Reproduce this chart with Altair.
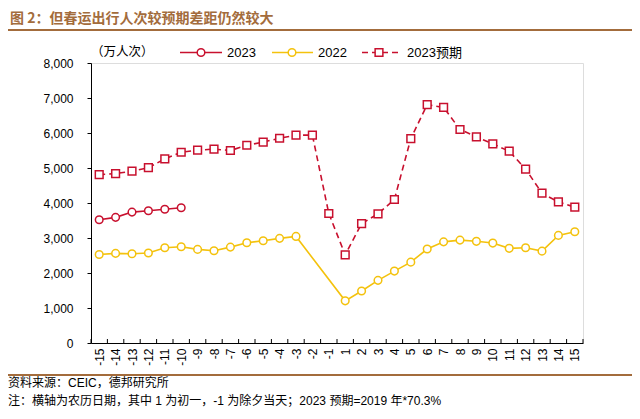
import altair as alt
import pandas as pd

# ---- data (万人次) ----
days = ["-15", "-14", "-13", "-12", "-11", "-10", "-9", "-8", "-7", "-6", "-5", "-4", "-3", "-2", "-1",
        "1", "2", "3", "4", "5", "6", "7", "8", "9", "10", "11", "12", "13", "14", "15"]

proj_2023 = [4810, 4840, 4910, 5010, 5260, 5450, 5510, 5540, 5500, 5650, 5740, 5850, 5940, 5940, 3700,
             2520, 3410, 3690, 4100, 5840, 6810, 6730, 6100, 5890, 5690, 5480, 4970, 4280, 4030, 3880]

days_2022 = ["-15", "-14", "-13", "-12", "-11", "-10", "-9", "-8", "-7", "-6", "-5", "-4", "-3",
             "1", "2", "3", "4", "5", "6", "7", "8", "9", "10", "11", "12", "13", "14", "15"]
vals_2022 = [2530, 2560, 2550, 2570, 2720, 2750, 2675, 2635, 2740, 2865, 2920, 2990, 3045,
             1205, 1485, 1790, 2055, 2310, 2685, 2890, 2940, 2905, 2855, 2705, 2720, 2625, 3075, 3180]

days_2023 = ["-15", "-14", "-13", "-12", "-11", "-10"]
vals_2023 = [3520, 3590, 3740, 3780, 3820, 3865]

y_ticks = [0, 1000, 2000, 3000, 4000, 5000, 6000, 7000, 8000]

title_text = "图 2：但春运出行人次较预期差距仍然较大"
unit_text = "（万人次）"
source_text = "资料来源：CEIC，德邦研究所"
note_text = "注：横轴为农历日期，其中 1 为初一，-1 为除夕当天；2023 预期=2019 年*70.3%"

RED = "#C8102E"
YEL = "#F4C20D"
BROWN = "#A36C3C"
LATIN = "Liberation Sans"
CJK = "Noto Sans CJK SC"

W, H = 492, 280
half = W / len(days) / 2

idx = {d: i for i, d in enumerate(days)}
df_proj = pd.DataFrame({"day": days, "value": proj_2023, "i": [idx[d] for d in days]})
df_22 = pd.DataFrame({"day": days_2022, "value": vals_2022, "i": [idx[d] for d in days_2022]})
df_23 = pd.DataFrame({"day": days_2023, "value": vals_2023, "i": [idx[d] for d in days_2023]})
df_days = pd.DataFrame({"day": days})
df_last = pd.DataFrame({"day": [days[-1]]})
one = pd.DataFrame({"k": [0]})

xscale = alt.Scale(type="point", domain=days, padding=0.5)
yscale = alt.Scale(domain=[0, 8000], nice=False)

xaxis = alt.Axis(title=None, labelAngle=270, ticks=False, domainColor="black", domainWidth=1,
                 labelFontSize=12, labelFont=LATIN, labelColor="black", labelPadding=5)
yaxis = alt.Axis(title=None, values=y_ticks, format=",.0f", grid=False, tickSize=4,
                 tickColor="black", domainColor="black", labelFontSize=12, labelFont=LATIN,
                 labelColor="black", labelPadding=14)

X = alt.X("day:N", scale=xscale, axis=xaxis, sort=days)
Y = alt.Y("value:Q", scale=yscale, axis=yaxis)


def series(df, color, shape, dash=None):
    line_kw = dict(color=color, strokeWidth=1.6)
    if dash:
        line_kw["strokeDash"] = dash
    line = alt.Chart(df).mark_line(**line_kw).encode(x=X, y=Y, order=alt.Order("i:Q"))
    pts = alt.Chart(df).mark_point(shape=shape, filled=True, fill="white", stroke=color,
                                   strokeWidth=1.5, size=60 if shape == "square" else 58,
                                   opacity=1).encode(x=X, y=Y)
    return [line, pts]


layers = []
layers += series(df_22, YEL, "circle")
layers += series(df_proj, RED, "square", [6, 4])
layers += series(df_23, RED, "circle")

# inward x ticks at category boundaries
ticks = alt.Chart(df_days).mark_rule(color="black", strokeWidth=1).encode(
    x=X, y=alt.value(H - 4), y2=alt.value(H), xOffset=alt.value(-half))
tick_end = alt.Chart(df_last).mark_rule(color="black", strokeWidth=1).encode(
    x=X, y=alt.value(H - 4), y2=alt.value(H), xOffset=alt.value(half))
layers += [ticks, tick_end]


def text(t, x, y, size=12, font=LATIN, color="black", weight="normal"):
    return alt.Chart(one).mark_text(text=t, align="left", baseline="middle", fontSize=size,
                                    font=font, color=color, fontWeight=weight).encode(
        x=alt.value(x), y=alt.value(y))


def hline(x1, x2, y, color, width=1.6, dash=None):
    kw = dict(color=color, strokeWidth=width)
    if dash:
        kw["strokeDash"] = dash
    return alt.Chart(one).mark_rule(**kw).encode(x=alt.value(x1), x2=alt.value(x2), y=alt.value(y))


def marker(x, y, shape, color, size):
    return alt.Chart(one).mark_point(shape=shape, filled=True, fill="white", stroke=color,
                                     strokeWidth=1.5, size=size, opacity=1).encode(
        x=alt.value(x), y=alt.value(y))


# header / footer
layers += [
    text(title_text, -81, -44, size=14, font=CJK, color=BROWN, weight="bold"),
    hline(-83, 541, -33, BROWN, width=2),
    hline(-83, 541, 312, BROWN, width=2),
    text(source_text, -83, 320, size=12, font=f"{LATIN}, {CJK}"),
    text(note_text, -83, 338, size=12, font=f"{LATIN}, {CJK}"),
    text(unit_text, 0, -11, size=12.5, font=CJK),
]

# legend
LY = -10.5
layers += [
    hline(89, 131, LY, RED), marker(110, LY, "circle", RED, 58), text("2023", 136, LY, size=13),
    hline(181, 222, LY, YEL), marker(201, LY, "circle", YEL, 58), text("2022", 227, LY, size=13),
    hline(271, 307, LY, RED, dash=[6, 4]), marker(288, LY, "square", RED, 60),
    text("2023预期", 316, LY, size=13, font=f"{LATIN}, {CJK}"),
]

chart = alt.layer(*layers).properties(
    width=W, height=H,
    autosize=alt.AutoSizeParams(type="none"),
    padding={"left": 83, "top": 55, "right": 49, "bottom": 68},
).configure_view(stroke=None).configure(background="white")

chart.save("out.html", embed_options={"renderer": "svg", "actions": False})
